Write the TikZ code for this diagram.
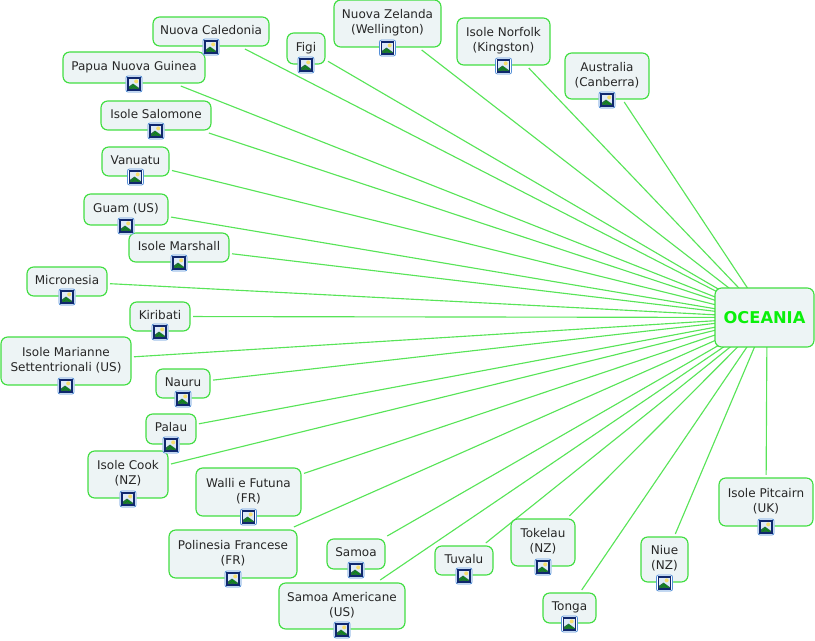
\documentclass[tikz,border=0pt]{standalone}
\usepackage{fontspec}
\setmainfont{DejaVu Sans}
\usepackage{xcolor}
\usetikzlibrary{backgrounds}
\definecolor{islegreen}{RGB}{66,222,66}
\definecolor{islefill}{RGB}{237,244,245}
\definecolor{linkgreen}{RGB}{88,228,88}
\definecolor{titlegreen}{RGB}{10,240,10}
\definecolor{iconblue}{RGB}{84,144,216}
\definecolor{iconnavy}{RGB}{16,40,110}
\definecolor{iconsky}{RGB}{222,234,248}
\definecolor{iconsun}{RGB}{246,222,110}
\definecolor{iconhill}{RGB}{36,110,60}
\newcommand{\isletext}[1]{\begin{tabular}{@{}c@{}}#1\end{tabular}}
\tikzset{
  isle/.style 2 args={draw=islegreen, fill=islefill, line width=0.85pt, rounded corners=5pt,
    inner sep=0pt, outer sep=2.25pt, text=black!85, font=\fontsize{9}{11.25}\selectfont,
    minimum width=#1*0.75pt, minimum height=#2*0.75pt},
  link/.style={draw=linkgreen, line width=0.85pt},
  mapicon/.pic={
    \begin{scope}[yshift=2.25pt]
      \fill[white, rounded corners=2pt] (-8.5,-7.5) rectangle (8.5,9.5);
      \draw[iconblue, line width=0.6pt, rounded corners=1.5pt] (-8,-7) rectangle (8,9);
      \fill[iconsky] (-6,-5) rectangle (6,7);
      \fill[iconsun] (2.2,-1.6) circle (2);
      \fill[iconhill] (-6,7) -- (-6,4.2) -- (-1,0.6) -- (6,5.6) -- (6,7) -- cycle;
      \draw[green!60!black, line width=0.5pt] (-3.5,5.5) -- (-0.5,2.5) -- (3,5.5);
      \draw[iconnavy, line width=0.9pt] (-6,-5) rectangle (6,7);
    \end{scope}
  }
}
\begin{document}
\begin{tikzpicture}[x=0.75pt, y=-0.75pt]
  \useasboundingbox (0,0) rectangle (815,641);

  \node[isle={99}{59}, outer sep=0pt, font=\fontsize{12.2}{14}\bfseries, text=titlegreen] (oceania) at (764.5,317.5) {OCEANIA};

  \node[isle={116}{29}] (caledonia) at (211,31.5) {\isletext{Nuova Caledonia}};
  \node[isle={38}{31}] (figi) at (306,48.5) {\isletext{Figi}};
  \node[isle={107}{47}] (zelanda) at (387.5,23.5) {\isletext{Nuova Zelanda\\(Wellington)}};
  \node[isle={93}{47}] (norfolk) at (503.5,41.5) {\isletext{Isole Norfolk\\(Kingston)}};
  \node[isle={84}{46}] (australia) at (607,76) {\isletext{Australia\\(Canberra)}};
  \node[isle={142}{31}] (papua) at (134,67.5) {\isletext{Papua Nuova Guinea}};
  \node[isle={110}{29}] (salomone) at (156,115.5) {\isletext{Isole Salomone}};
  \node[isle={67}{29}] (vanuatu) at (135.5,161.5) {\isletext{Vanuatu}};
  \node[isle={84}{31}] (guam) at (126,209.5) {\isletext{Guam (US)}};
  \node[isle={100}{29}] (marshall) at (179,247.5) {\isletext{Isole Marshall}};
  \node[isle={80}{29}] (micronesia) at (67,281.5) {\isletext{Micronesia}};
  \node[isle={60}{29}] (kiribati) at (160,316.5) {\isletext{Kiribati}};
  \node[isle={130}{48}] (marianne) at (66,361) {\isletext{Isole Marianne\\Settentrionali (US)}};
  \node[isle={54}{29}] (nauru) at (183,383.5) {\isletext{Nauru}};
  \node[isle={50}{30}] (palau) at (171,429) {\isletext{Palau}};
  \node[isle={80}{47}] (cook) at (128,474.5) {\isletext{Isole Cook\\(NZ)}};
  \node[isle={105}{48}] (walli) at (248.5,492) {\isletext{Walli e Futuna\\(FR)}};
  \node[isle={128}{48}] (polinesia) at (233,554) {\isletext{Polinesia Francese\\(FR)}};
  \node[isle={58}{30}] (samoa) at (356,554) {\isletext{Samoa}};
  \node[isle={126}{46}] (americane) at (342,606) {\isletext{Samoa Americane\\(US)}};
  \node[isle={58}{29}] (tuvalu) at (464,560.5) {\isletext{Tuvalu}};
  \node[isle={64}{47}] (tokelau) at (543,542.5) {\isletext{Tokelau\\(NZ)}};
  \node[isle={53}{30}] (tonga) at (569.5,608) {\isletext{Tonga}};
  \node[isle={47}{45}] (niue) at (664.5,559.5) {\isletext{Niue\\(NZ)}};
  \node[isle={94}{48}] (pitcairn) at (766,502) {\isletext{Isole Pitcairn\\(UK)}};

  \begin{scope}[on background layer]
    \draw[link] (caledonia) -- ([xshift=1.9pt]oceania.center);
    \draw[link] (figi) -- ([xshift=1.9pt]oceania.center);
    \draw[link] (zelanda) -- ([xshift=1.9pt]oceania.center);
    \draw[link] (norfolk) -- ([xshift=1.9pt]oceania.center);
    \draw[link] (australia) -- ([xshift=1.9pt]oceania.center);
    \draw[link] (papua) -- ([xshift=1.9pt]oceania.center);
    \draw[link] (salomone) -- ([xshift=1.9pt]oceania.center);
    \draw[link] (vanuatu) -- ([xshift=1.9pt]oceania.center);
    \draw[link] (guam) -- ([xshift=1.9pt]oceania.center);
    \draw[link] (marshall) -- ([xshift=1.9pt]oceania.center);
    \draw[link] (micronesia) -- ([xshift=1.9pt]oceania.center);
    \draw[link] (kiribati) -- ([xshift=1.9pt]oceania.center);
    \draw[link] (marianne) -- ([xshift=1.9pt]oceania.center);
    \draw[link] (nauru) -- ([xshift=1.9pt]oceania.center);
    \draw[link] (palau) -- ([xshift=1.9pt]oceania.center);
    \draw[link] (cook) -- ([xshift=1.9pt]oceania.center);
    \draw[link] (walli) -- ([xshift=1.9pt]oceania.center);
    \draw[link] (polinesia) -- ([xshift=1.9pt]oceania.center);
    \draw[link] (samoa) -- ([xshift=1.9pt]oceania.center);
    \draw[link] (americane) -- ([xshift=1.9pt]oceania.center);
    \draw[link] (tuvalu) -- ([xshift=1.9pt]oceania.center);
    \draw[link] (tokelau) -- ([xshift=1.9pt]oceania.center);
    \draw[link] (tonga) -- ([xshift=1.9pt]oceania.center);
    \draw[link] (niue) -- ([xshift=1.9pt]oceania.center);
    \draw[link] (pitcairn) -- ([xshift=1.9pt]oceania.center);
  \end{scope}

  \pic at (caledonia.south) {mapicon};
  \pic at (figi.south) {mapicon};
  \pic at (zelanda.south) {mapicon};
  \pic at (norfolk.south) {mapicon};
  \pic at (australia.south) {mapicon};
  \pic at (papua.south) {mapicon};
  \pic at (salomone.south) {mapicon};
  \pic at (vanuatu.south) {mapicon};
  \pic at (guam.south) {mapicon};
  \pic at (marshall.south) {mapicon};
  \pic at (micronesia.south) {mapicon};
  \pic at (kiribati.south) {mapicon};
  \pic at (marianne.south) {mapicon};
  \pic at (nauru.south) {mapicon};
  \pic at (palau.south) {mapicon};
  \pic at (cook.south) {mapicon};
  \pic at (walli.south) {mapicon};
  \pic at (polinesia.south) {mapicon};
  \pic at (samoa.south) {mapicon};
  \pic at (americane.south) {mapicon};
  \pic at (tuvalu.south) {mapicon};
  \pic at (tokelau.south) {mapicon};
  \pic at (tonga.south) {mapicon};
  \pic at (niue.south) {mapicon};
  \pic at (pitcairn.south) {mapicon};
\end{tikzpicture}
\end{document}
